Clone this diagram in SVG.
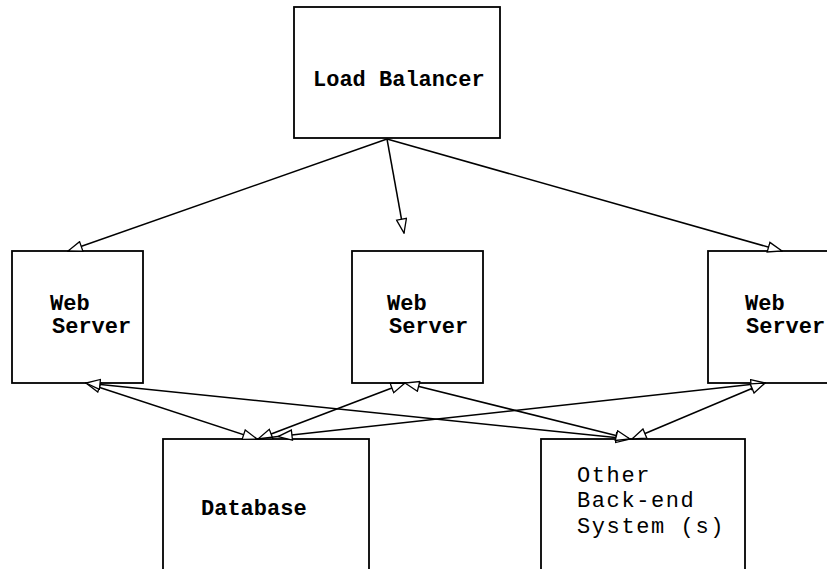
<svg xmlns="http://www.w3.org/2000/svg" width="827" height="569" viewBox="0 0 827 569">
<style>
.box{fill:#fff;stroke:#000;stroke-width:1.8}
.b{font-family:"Liberation Mono","DejaVu Sans Mono",monospace;font-weight:bold;font-size:22px;fill:#000}
.r{font-family:"Liberation Mono","DejaVu Sans Mono",monospace;font-size:22px;letter-spacing:1.6px;fill:#000}
.c{fill:none;stroke:#000;stroke-width:1.5}
</style>
<defs>
<marker id="ah" markerUnits="userSpaceOnUse" markerWidth="16" markerHeight="12" viewBox="-1 -1 16 12" refX="14" refY="5" orient="auto-start-reverse">
<path d="M0,0 L14,5 L0,10 z" fill="#fff" stroke="#000" stroke-width="1.3"/>
</marker>
</defs>
<rect width="827" height="569" fill="#fff"/>
<g id="load-balancer"><rect class="box" x="294" y="7" width="206" height="131"/><text class="b" x="313" y="86">Load Balancer</text></g>
<g id="web-server-1"><rect class="box" x="12" y="251" width="131" height="132"/><text class="b" x="50" y="310">Web</text><text class="b" x="52" y="333">Server</text></g>
<g id="web-server-2"><rect class="box" x="352" y="251" width="131" height="132"/><text class="b" x="387" y="310">Web</text><text class="b" x="389" y="333">Server</text></g>
<g id="web-server-3"><rect class="box" x="708" y="251" width="131" height="132"/><text class="b" x="745" y="310">Web</text><text class="b" x="746" y="333">Server</text></g>
<g id="database"><rect class="box" x="163" y="439" width="206" height="140"/><text class="b" x="201" y="515">Database</text></g>
<g id="other-backend"><rect class="box" x="541" y="439" width="204" height="140"/><text class="r" x="577" y="482">Other</text><text class="r" x="577" y="507">Back-end</text><text class="r" x="577" y="533">System (s)</text></g>
<g id="connectors">
<path class="c" d="M387,139 L68,251" marker-end="url(#ah)"/>
<path class="c" d="M387,139 L404,233" marker-end="url(#ah)"/>
<path class="c" d="M387,139 L782,251" marker-end="url(#ah)"/>
<path class="c" d="M86,383 L257,439" marker-start="url(#ah)" marker-end="url(#ah)"/>
<path class="c" d="M86,383 L630,439" marker-start="url(#ah)" marker-end="url(#ah)"/>
<path class="c" d="M405,383 L258,439" marker-start="url(#ah)" marker-end="url(#ah)"/>
<path class="c" d="M405,383 L630,439" marker-start="url(#ah)" marker-end="url(#ah)"/>
<path class="c" d="M765,383 L278,436.6" marker-start="url(#ah)" marker-end="url(#ah)"/>
<path class="c" d="M278,436.6 L257,439"/>
<path class="c" d="M765,383 L632,439" marker-start="url(#ah)" marker-end="url(#ah)"/>
</g>
</svg>
